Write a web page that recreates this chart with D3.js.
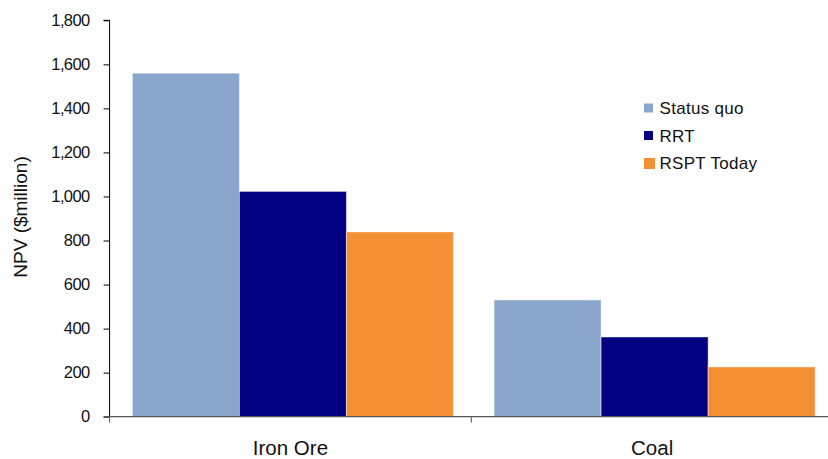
<!DOCTYPE html>
<html>
<head>
<meta charset="utf-8">
<script src="https://cdn.jsdelivr.net/npm/d3@7"></script>
<style>
  body { margin: 0; background: #fff; }
  text { font-family: 'Liberation Sans', Arial, sans-serif; }
</style>
</head>
<body>
<svg id="chart" width="828" height="459"></svg>
<script>
const categories = ['Iron Ore', 'Coal']
const seriesNames = ['Status quo', 'RRT', 'RSPT Today']
const statusQuo = [1560, 530]
const rrt = [1023, 362]
const rsptToday = [839, 226]
const yTicks = [0, 200, 400, 600, 800, 1000, 1200, 1400, 1600, 1800]
const colors = ['#8aa6cc', '#000080', '#f39033']

const seriesValues = [statusQuo, rrt, rsptToday]
const data = categories.map((c, i) => ({
  cat: c,
  vals: seriesNames.map((s, j) => ({ key: s, value: seriesValues[j][i], idx: j }))
}))

const svg = d3.select('#chart')
const plotLeft = 109.6
const plotRight = 833
const plotTop = 20.3
const plotBottom = 416.7

const x = d3.scaleBand().domain(categories).range([plotLeft, plotRight]).padding(0)
const xInner = d3.scaleBand().domain(seriesNames).range([0, x.bandwidth()])
  .paddingInner(0).paddingOuter(0.19).align(0.56)
const y = d3.scaleLinear().domain([0, 1800]).range([plotBottom, plotTop])

// bars
const groups = svg.append('g').selectAll('g')
  .data(data)
  .join('g')
  .attr('transform', d => `translate(${x(d.cat)},0)`)

groups.selectAll('rect')
  .data(d => d.vals)
  .join('rect')
  .attr('x', d => xInner(d.key))
  .attr('y', d => y(d.value))
  .attr('width', xInner.bandwidth())
  .attr('height', d => plotBottom - y(d.value))
  .attr('fill', d => colors[d.idx])
  .attr('stroke', '#fff')
  .attr('stroke-opacity', 0.45)
  .attr('stroke-width', 1)

// y axis
const yAxis = svg.append('g')
  .attr('transform', `translate(${plotLeft},0)`)
  .call(d3.axisLeft(y).tickValues(yTicks).tickSize(6).tickPadding(14).tickFormat(d3.format(',')))
yAxis.select('.domain').attr('stroke', '#000').attr('d', `M-6,${plotTop}H0V${plotBottom}`)
yAxis.selectAll('.tick line').attr('stroke', '#000')
yAxis.selectAll('.tick text')
  .attr('font-size', 16.5)
  .attr('letter-spacing', -0.6)
  .attr('fill', '#111')
  .style('font-family', "'Liberation Sans', Arial, sans-serif")

// x axis
const xAxisG = svg.append('g')
xAxisG.append('line')
  .attr('x1', plotLeft - 6).attr('x2', 828)
  .attr('y1', plotBottom).attr('y2', plotBottom)
  .attr('stroke', '#555')
  .attr('stroke-width', 1.2)
xAxisG.selectAll('line.tk')
  .data(categories)
  .join('line')
  .attr('class', 'tk')
  .attr('x1', d => x(d)).attr('x2', d => x(d))
  .attr('y1', plotBottom).attr('y2', plotBottom + 6)
  .attr('stroke', '#555')
xAxisG.selectAll('text')
  .data(categories)
  .join('text')
  .attr('x', d => x(d) + x.bandwidth() / 2)
  .attr('y', 455)
  .attr('text-anchor', 'middle')
  .attr('font-size', 20.5)
  .attr('fill', '#111')
  .text(d => d)

// y label
svg.append('text')
  .attr('transform', 'translate(27,217) rotate(-90)')
  .attr('text-anchor', 'middle')
  .attr('font-size', 19)
  .attr('fill', '#111')
  .text('NPV ($million)')

// legend
const legend = svg.append('g').attr('transform', 'translate(644,108)')
const items = legend.selectAll('g')
  .data(seriesNames)
  .join('g')
  .attr('transform', (d, i) => `translate(0,${i * 27.5})`)
items.append('rect')
  .attr('x', 0)
  .attr('y', (d, i) => i === 2 ? -5 : -4.5)
  .attr('width', (d, i) => i === 2 ? 11 : 9)
  .attr('height', (d, i) => i === 2 ? 11 : 9)
  .attr('fill', (d, i) => colors[i])
items.append('text')
  .attr('x', 15.5)
  .attr('y', 6)
  .attr('font-size', 17)
  .attr('letter-spacing', 0.3)
  .attr('fill', '#111')
  .text(d => d)
</script>
</body>
</html>
